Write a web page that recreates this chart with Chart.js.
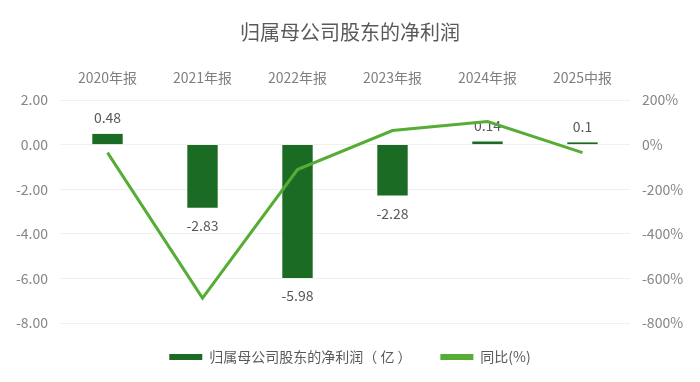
<!DOCTYPE html>
<html>
<head>
<meta charset="utf-8">
<script src="https://cdn.jsdelivr.net/npm/chart.js@4/dist/chart.umd.min.js"></script>
<style>
html,body{margin:0;padding:0;background:#fff;}
#wrap{width:700px;height:382px;}
</style>
</head>
<body>
<div id="wrap"><canvas id="c" width="700" height="382"></canvas></div>
<script>
const categories = ['2020年报','2021年报','2022年报','2023年报','2024年报','2025中报'];
const netProfit = [0.48, -2.83, -5.98, -2.28, 0.14, 0.1];
const yoyPct = [-36, -688, -112, 63, 103, -36];
const leftTicks = [2, 0, -2, -4, -6, -8];
const rightTicks = [200, 0, -200, -400, -600, -800];

const FONT = '"Noto Sans CJK SC", "Noto Sans", sans-serif';

const labelPlugin = {
  id: 'barLabels',
  beforeDatasetsDraw(chart) {
    const ctx = chart.ctx;
    const meta = chart.getDatasetMeta(0);
    ctx.save();
    ctx.font = '14px ' + FONT;
    ctx.fillStyle = '#595959';
    ctx.textAlign = 'center';
    meta.data.forEach((el, i) => {
      const v = netProfit[i];
      if (v >= 0) {
        ctx.textBaseline = 'bottom';
        ctx.fillText(String(v), el.x, el.y - 9);
      } else {
        ctx.textBaseline = 'top';
        ctx.fillText(String(v), el.x, el.y + 11);
      }
    });
    ctx.restore();
  }
};

new Chart(document.getElementById('c'), {
  type: 'bar',
  data: {
    labels: categories,
    datasets: [
      {
        type: 'bar',
        label: '归属母公司股东的净利润（ 亿 ）',
        data: netProfit,
        backgroundColor: '#1c6b25',
        borderWidth: 0,
        yAxisID: 'y',
        xAxisID: 'x',
        categoryPercentage: 1,
        barPercentage: 0.32,
        order: 2
      },
      {
        type: 'line',
        label: '同比(%)',
        data: yoyPct,
        borderColor: '#56ad36',
        backgroundColor: '#56ad36',
        borderWidth: 3,
        pointRadius: 0,
        tension: 0,
        yAxisID: 'y1',
        xAxisID: 'x',
        order: 1
      }
    ]
  },
  options: {
    responsive: false,
    animation: false,
    devicePixelRatio: 1,
    layout: { padding: { left: 0, right: 0, top: 0, bottom: 8 } },
    plugins: {
      title: {
        display: true,
        text: '归属母公司股东的净利润',
        color: '#595959',
        font: { family: FONT, size: 20, weight: 'normal' },
        padding: { top: 20, bottom: 16 }
      },
      legend: {
        display: true,
        position: 'bottom',
        labels: {
          color: '#595959',
          font: { family: FONT, size: 14 },
          boxWidth: 33,
          boxHeight: 6,
          padding: 10,
          sort: (a, b) => a.datasetIndex - b.datasetIndex,
          generateLabels(chart) {
            const items = Chart.defaults.plugins.legend.labels.generateLabels(chart);
            items.forEach(it => {
              it.lineWidth = 0;
              it.strokeStyle = 'rgba(0,0,0,0)';
              if (it.datasetIndex === 0) it.text = it.text + '      ';
            });
            return items;
          }
        }
      },
      tooltip: { enabled: false }
    },
    scales: {
      x: {
        position: 'top',
        grid: { display: false, drawTicks: false },
        border: { display: false },
        ticks: { color: '#7f7f7f', font: { family: FONT, size: 14 }, padding: 14 },
        afterFit(s) { s.height = 40; }
      },
      xb: {
        type: 'category',
        labels: categories,
        position: 'bottom',
        display: true,
        grid: { display: false, drawTicks: false },
        border: { display: false },
        ticks: { display: false },
        afterFit(s) { s.height = 17; }
      },
      y: {
        position: 'left',
        min: -8, max: 2,
        afterBuildTicks(s) { s.ticks = leftTicks.map(v => ({ value: v })); },
        ticks: {
          color: '#858585',
          font: { family: FONT, size: 14 },
          padding: 12,
          callback: v => Number(v).toFixed(2)
        },
        grid: { color: '#f0f0f0', drawTicks: false, lineWidth: 1 },
        border: { display: false },
        afterFit(s) { s.width = 60; }
      },
      y1: {
        position: 'right',
        min: -800, max: 200,
        afterBuildTicks(s) { s.ticks = rightTicks.map(v => ({ value: v })); },
        ticks: {
          color: '#858585',
          font: { family: FONT, size: 14 },
          padding: 12,
          callback: v => v + '%'
        },
        grid: { display: false, drawTicks: false },
        border: { display: false },
        afterFit(s) { s.width = 70; }
      }
    }
  },
  plugins: [labelPlugin]
});
</script>
</body>
</html>
